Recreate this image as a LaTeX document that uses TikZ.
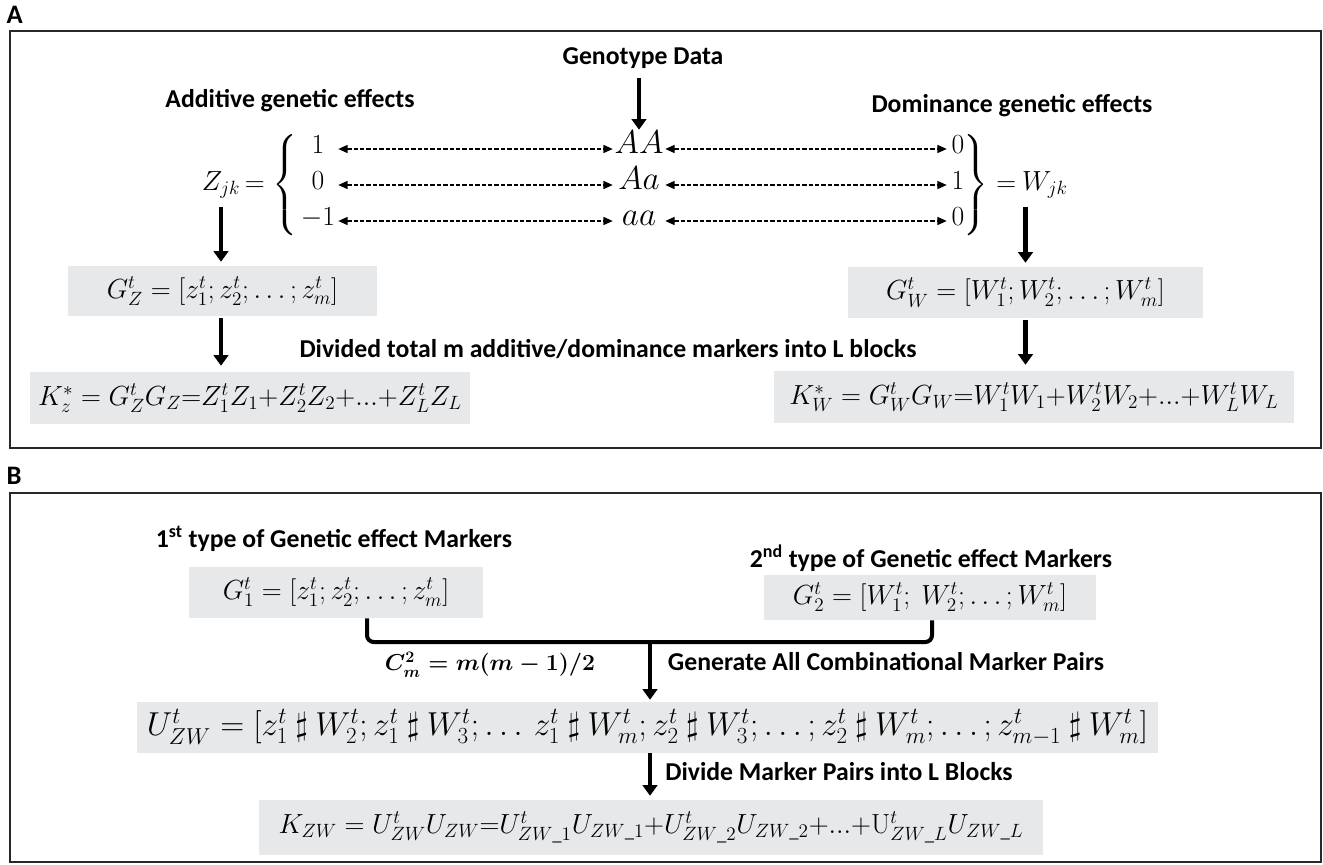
\documentclass[tikz,border=0pt]{standalone}
\usepackage{amsmath}
\usepackage{amssymb}
\usepackage[no-math]{fontspec}
\setmainfont{Carlito}
\usepackage{tikz}
\usetikzlibrary{arrows.meta,positioning,calc}
\definecolor{boxgray}{RGB}{231,232,233}
\definecolor{framegray}{RGB}{40,40,40}
\tikzset{ hdr/.style={font=\fontsize{19.3}{22}\selectfont\bfseries,inner sep=1pt},
  gbox/.style={fill=boxgray,inner sep=0pt,font=\fontsize{21.5}{25}\selectfont},
  val/.style={inner sep=0pt,text height=1.6ex,text depth=0.2ex,font=\fontsize{21}{25}\selectfont},
  fat/.style={line width=3.5pt,-{Triangle[length=8pt,width=11pt]}},
  dsh/.style={line width=1.1pt,dash pattern=on 3.2pt off 1.6pt,{Triangle[length=7pt,width=6pt]}-{Triangle[length=7pt,width=6pt]}},
  panel/.style={draw=framegray,line width=1.6pt} }
\newcommand{\tr}[2]{{#1}^{t}_{#2}}
\newcommand{\shp}{\mathbin{\sharp}}

\begin{document}
\begin{tikzpicture}[x=0.75pt,y=-0.75pt]
  \useasboundingbox (0,0) rectangle (1323,864);
  % panel A
  \node[hdr,font=\fontsize{20}{24}\selectfont\bfseries,anchor=west] (lblA) at (5,15) {A};
  \draw[panel] (10,31) rectangle (1321,448);
  \node[hdr] (geno) at (643,58) {Genotype Data};
  \node[hdr] (add) at (290,101) {Additive genetic effects};
  \node[hdr] (dom) at (1012,106) {Dominance genetic effects};
  \node[val,font=\fontsize{24}{28}\selectfont,minimum width=39pt] (gAA) at (639,149) {$AA$};
  \node[val,font=\fontsize{24}{28}\selectfont,minimum width=39pt] (gAa) at (639,185) {$Aa$};
  \node[val,font=\fontsize{24}{28}\selectfont,minimum width=39pt] (gaa) at (639,221) {$aa$};
  \node[val,minimum width=30pt] (z1) at (318,149) {$1$};
  \node[val,minimum width=30pt] (z0) at (318,185) {$0$};
  \node[val,minimum width=30pt] (zm) at (318,221) {$-1$};
  \node[val,minimum width=16.5pt] (w0) at (958,149) {$0$};
  \node[val,minimum width=16.5pt] (w1) at (958,185) {$1$};
  \node[val,minimum width=16.5pt] (w2) at (958,221) {$0$};
  \node[font=\fontsize{21}{25}\selectfont,inner sep=0pt] (zjk) at (221,185) {$Z_{jk}$};
  \node[font=\fontsize{21}{25}\selectfont,inner sep=0pt,right=3pt of zjk] (zbr) {$=\left\{\vrule height 31pt depth 31pt width 0pt\right.$};
  \node[font=\fontsize{21}{25}\selectfont,inner sep=0pt,anchor=west] (wbr) at (962,185) {$\left.\vrule height 31pt depth 31pt width 0pt\right\}=$};
  \node[font=\fontsize{21}{25}\selectfont,inner sep=0pt,right=4pt of wbr] (wjk) {$W_{jk}$};
  \foreach \a/\b/\c in {z1/gAA/w0,z0/gAa/w1,zm/gaa/w2}{
    \draw[dsh] (\a) -- (\b);
    \draw[dsh] (\b) -- (\c);
  }
  \node[gbox,minimum width=231.75pt,minimum height=37.5pt] (gz) at (222.5,291) {$\tr{G}{Z} = [\tr{z}{1}; \tr{z}{2}; \ldots; \tr{z}{m}]$};
  \node[gbox,font=\fontsize{20}{24}\selectfont,minimum width=330pt,minimum height=39pt] (kz) at (250,398) {$K_z^* = \tr{G}{Z}G_Z{=}\tr{Z}{1}Z_1{+}\tr{Z}{2}Z_2{+}...{+}\tr{Z}{L}Z_L$};
  \node[gbox,minimum width=266.25pt,minimum height=38.25pt] (gw) at (1025.5,292.5) {$\tr{G}{W} = [\tr{W}{1}; \tr{W}{2}; \ldots; \tr{W}{m}]$};
  \node[gbox,font=\fontsize{20}{24}\selectfont,minimum width=390pt,minimum height=39pt] (kw) at (1034,397) {$K_W^* = \tr{G}{W}G_W{=}\tr{W}{1}W_1{+}\tr{W}{2}W_2{+}...{+}\tr{W}{L}W_L$};
  \node[hdr] (divd) at (608,349) {Divided total m additive/dominance markers into L blocks};
  \draw[fat,shorten <=6pt,shorten >=10pt] (gAA |- geno.south) -- (gAA);
  \draw[fat,shorten <=6pt,shorten >=3pt] (zjk) -- (zjk |- gz.north);
  \draw[fat,shorten <=1.5pt,shorten >=4.5pt] (gz.south -| zjk) -- (kz.north -| zjk);
  \draw[fat,shorten <=6pt,shorten >=3pt] (wjk.south -| gw.north) -- (gw.north);
  \draw[fat,shorten <=1pt,shorten >=4.5pt] (gw.south) -- (gw.south |- kw.north);
  % panel B
  \node[hdr,font=\fontsize{20}{24}\selectfont\bfseries,anchor=west] (lblB) at (5,476) {B};
  \draw[panel] (10,493) rectangle (1321,862);
  \node[hdr] (type1) at (334,539) {1\textsuperscript{st} type of Genetic effect Markers};
  \node[gbox,minimum width=220.5pt,minimum height=38.25pt] (g1) at (336,592.5) {$\tr{G}{1} = [\tr{z}{1}; \tr{z}{2}; \ldots; \tr{z}{m}]$};
  \node[hdr] (type2) at (931,558) {2\textsuperscript{nd} type of Genetic effect Markers};
  \node[gbox,minimum width=249pt,minimum height=33.75pt] (g2) at (930,597.5) {$\tr{G}{2} = [\tr{W}{1};\ \tr{W}{2}; \ldots; \tr{W}{m}]$};
  \coordinate (jl) at (367,642);
  \coordinate (join) at (650,642);
  \coordinate (jr) at (932,642);
  \draw[line width=3pt,rounded corners=5pt] (g1.south -| jl) -- (jl) -- (jr) -- (g2.south -| jr);
  \node[font=\fontsize{16.5}{20}\selectfont] (cm) at (490,665) {$\boldsymbol{C_m^2 = m(m-1)/2}$};
  \node[hdr] (gen) at (886,662) {Generate All Combinational Marker Pairs};
  \node[gbox,font=\fontsize{23}{27}\selectfont,minimum width=765.75pt,minimum height=38.25pt] (u) at (647.5,727.5) {$\tr{U}{ZW} = [\tr{z}{1}\shp\tr{W}{2}; \tr{z}{1}\shp\tr{W}{3}; \ldots\,\tr{z}{1}\shp\tr{W}{m}; \tr{z}{2}\shp\tr{W}{3}; \ldots; \tr{z}{2}\shp\tr{W}{m}; \ldots; \tr{z}{m-1}\shp\tr{W}{m}]$};
  \draw[fat,line width=3pt,shorten <=-1.5pt,shorten >=1.5pt] (join) -- (u.north -| join);
  \node[hdr] (divp) at (839,772) {Divide Marker Pairs into L Blocks};
  \node[gbox,font=\fontsize{20}{24}\selectfont,minimum width=588pt,minimum height=41.25pt] (kzw) at (651,827.5) {$K_{ZW} = \tr{U}{ZW}U_{ZW}{=}\tr{U}{ZW\_1}U_{ZW\_1}{+}\tr{U}{ZW\_2}U_{ZW\_2}{+}...{+}\tr{\mathrm{U}}{ZW\_L}U_{ZW\_L}$};
  \draw[fat,line width=3pt,shorten >=3pt] (u.south -| join) -- (kzw.north -| join);
\end{tikzpicture}
\end{document}
